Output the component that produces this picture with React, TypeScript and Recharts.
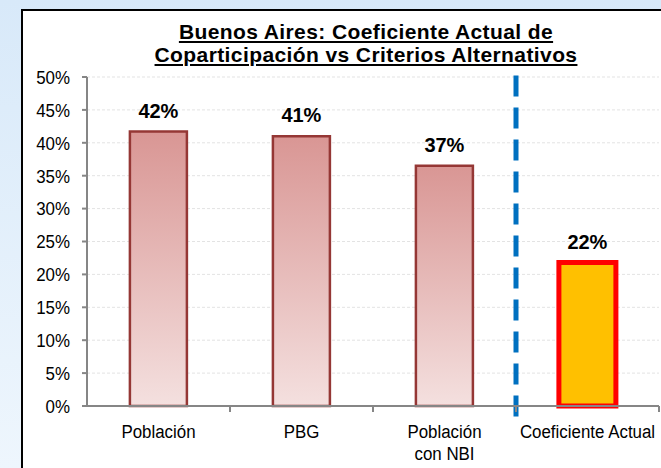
import { BarChart, Bar, Cell, CartesianGrid, XAxis, YAxis, LabelList, ReferenceLine } from "recharts";

const categories = ["Población", "PBG", "Población\ncon NBI", "Coeficiente Actual"];
const shares = [0.417, 0.41, 0.365, 0.218];
const yTicks = [0, 0.05, 0.1, 0.15, 0.2, 0.25, 0.3, 0.35, 0.4, 0.45, 0.5];

const data = categories.map((name, i) => ({ name, value: shares[i] }));

const sans = "'Liberation Sans', Arial, sans-serif";
// no Arial Narrow here, so squeeze Liberation Sans a bit
const squeeze = 0.89;

function CategoryTick(props: any) {
  const { x, y, payload } = props;
  const half = payload.offset ?? 143 / 2;
  const lines = String(payload.value).split("\n");
  return (
    <g>
      <line x1={x + half} x2={x + half} y1={y} y2={y + 6} stroke="#868686" strokeWidth={2} />
      <text
        transform={`translate(${x},${y + 32}) scale(${squeeze},1)`}
        textAnchor="middle"
        fontFamily={sans}
        fontSize={19}
        fill="#000"
      >
        {lines.map((l, i) => (
          <tspan key={i} x={0} dy={i === 0 ? 0 : 22}>
            {l}
          </tspan>
        ))}
      </text>
    </g>
  );
}

function PercentTick(props: any) {
  const { x, y, payload } = props;
  return (
    <text
      transform={`translate(${x},${y}) scale(${squeeze},1)`}
      textAnchor="end"
      dy="0.36em"
      fontFamily={sans}
      fontSize={19}
      fill="#000"
    >
      {`${Math.round(payload.value * 100)}%`}
    </text>
  );
}

function App() {
  return (
    <div
      style={{
        position: "absolute",
        left: 0,
        top: 0,
        width: 661,
        height: 468,
        overflow: "hidden",
        background: "linear-gradient(to bottom, #d8e9f9, #eef6fd)",
      }}
    >
      <div
        style={{
          position: "absolute",
          left: 21,
          top: 9,
          width: 700,
          height: 500,
          background: "#fff",
          border: "2px solid #000",
        }}
      />
      <div
        style={{
          position: "absolute",
          left: 66,
          top: 20,
          width: 600,
          textAlign: "center",
          fontFamily: sans,
          fontWeight: "bold",
          fontSize: 21,
          letterSpacing: 0.4,
          lineHeight: "23px",
          textDecoration: "underline",
          color: "#000",
        }}
      >
        Buenos Aires: Coeficiente Actual de
        <br />
        Coparticipación vs Criterios Alternativos
      </div>
      <div style={{ position: "absolute", left: 0, top: 0 }}>
        <BarChart
          width={661}
          height={468}
          data={data}
          margin={{ top: 77, right: 2, left: 27, bottom: 12 }}
          barCategoryGap="30%"
        >
          <defs>
            <linearGradient id="redFade" x1="0" y1="0" x2="0" y2="1">
              <stop offset="0%" stopColor="#d99694" />
              <stop offset="100%" stopColor="#f4e0df" />
            </linearGradient>
          </defs>
          <CartesianGrid vertical={false} stroke="#e3e3e3" strokeDasharray="3 2" />
          <XAxis
            dataKey="name"
            height={50}
            stroke="#868686"
            strokeWidth={2}
            tickLine={false}
            tickSize={0}
            tickMargin={0}
            interval={0}
            tick={<CategoryTick />}
          />
          <YAxis
            width={60}
            domain={[0, 0.5]}
            ticks={yTicks}
            stroke="#868686"
            strokeWidth={2}
            tickSize={5}
            tickMargin={12}
            tick={<PercentTick />}
          />
          <Bar dataKey="value" isAnimationActive={false}>
            {data.map((d, i) =>
              i === data.length - 1 ? (
                <Cell key={d.name} fill="#ffc000" stroke="#ff0000" strokeWidth={5} />
              ) : (
                <Cell key={d.name} fill="url(#redFade)" stroke="#953735" strokeWidth={2.5} />
              )
            )}
            <LabelList
              dataKey="value"
              position="top"
              offset={14}
              formatter={(v: any) => `${Math.round(Number(v) * 100)}%`}
              style={{ fontFamily: sans, fontWeight: "bold", fontSize: 20, fill: "#000" }}
            />
          </Bar>
          <ReferenceLine
            segment={[
              { x: "Coeficiente Actual", y: -0.016 },
              { x: "Coeficiente Actual", y: 0.508 },
            ]}
            position="start"
            ifOverflow="visible"
            stroke="#0070c0"
            strokeWidth={5}
            strokeDasharray="21 11"
          />
        </BarChart>
      </div>
    </div>
  );
}

export default App;
